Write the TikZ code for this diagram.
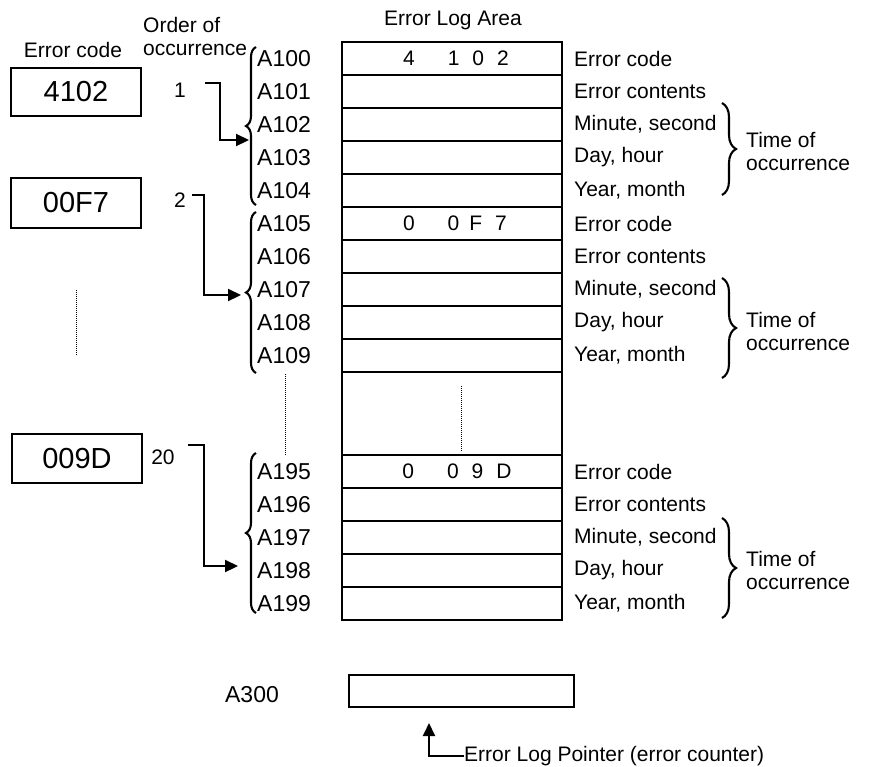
\documentclass[tikz,border=0pt]{standalone}
\usepackage{fontspec}
\setmainfont{Liberation Sans}
\usetikzlibrary{arrows.meta,decorations.pathreplacing}
\begin{document}
\begin{tikzpicture}[x=1pt,y=-1pt,
  lbl/.style={font=\fontsize{21}{23}\selectfont, inner sep=0pt},
  addr/.style={font=\fontsize{23}{26}\selectfont, inner sep=0pt, anchor=west},
  codebox/.style={draw, line width=2.6pt, minimum width=130pt, minimum height=48pt, inner sep=0pt, font=\fontsize{29}{32}\selectfont},
  cell/.style={draw, line width=1.7pt, minimum width=220pt, minimum height=33pt, inner sep=0pt},
  lbrace/.style={decorate, decoration={brace, amplitude=10pt}, line width=2.1pt},
  rbrace/.style={decorate, decoration={brace, amplitude=14pt}, line width=2.1pt},
  arr/.style={line width=2.2pt, -{Triangle[length=13pt,width=12pt]}},
  dots/.style={line width=1pt, dash pattern=on 1pt off 1pt}
]
\useasboundingbox (0,0) rectangle (872,766);

% headers
\node[lbl] (hdrcode) at (73,50) {Error code};
\node[lbl, align=left, anchor=west] (hdrord) at (143,36) {Order of\\occurrence};
\node[lbl] (hdrarea) at (453,20) {Error Log Area};

% table rows and addresses
\foreach \n/\y/\t in {100/58.5/{Error code},101/91.5/{Error contents},102/124.5/{Minute, second},103/157.5/{Day, hour},104/190.5/{Year, month},
                      105/223.5/{Error code},106/256.5/{Error contents},107/289.5/{Minute, second},108/322.5/{Day, hour},109/355.5/{Year, month},
                      195/471.5/{Error code},196/504.5/{Error contents},197/537.5/{Minute, second},198/570.5/{Day, hour},199/603.5/{Year, month}}{
  \node[cell] (r\n) at (452,\y) {};
  \node[addr] (a\n) at (257,\y) {A\n};
  \node[lbl, anchor=west] (e\n) at (574,\y) {\t};
}
\node[cell, minimum height=83pt] (gap) at (452,413.5) {};

% cell contents
\node[lbl] (d100) at (456,58.5) {4\hspace{33pt}1\hspace{13pt}0\hspace{13pt}2};
\node[lbl] (d105) at (455,223.5) {0\hspace{33pt}0\hspace{10pt}F\hspace{13pt}7};
\node[lbl] (d195) at (457,471.5) {0\hspace{33pt}0\hspace{13pt}9\hspace{13pt}D};

% left braces
\draw[lbrace] (256,205) -- (256,47);
\draw[lbrace] (256,373) -- (256,212);
\draw[lbrace] (256,613) -- (256,453);

% right braces
\draw[rbrace] (722,103) -- (722,195);
\draw[rbrace] (722,278) -- (722,378);
\draw[rbrace] (722,518) -- (722,618);
\node[lbl, align=left, anchor=west] (tm1) at (746,151.5) {Time of\\occurrence};
\node[lbl, align=left, anchor=west] (tm2) at (746,331.5) {Time of\\occurrence};
\node[lbl, align=left, anchor=west] (tm3) at (746,570) {Time of\\occurrence};

% error code boxes
\node[codebox] (c1) at (76,92) {4102};
\node[codebox, minimum height=50pt] (c2) at (76,203) {00F7};
\node[codebox, minimum height=49pt] (c3) at (77,458.5) {009D};

% order numbers
\node[lbl] (o1) at (180,90) {1};
\node[lbl] (o2) at (180,200) {2};
\node[lbl] (o20) at (163,457) {20};

% arrows
\coordinate (s1) at (205,83);  \coordinate (t1) at (249,140);
\coordinate (s2) at (192,195); \coordinate (t2) at (241,295);
\coordinate (s20) at (188,445); \coordinate (t20) at (238,566);
\draw[arr] (s1) -- ++(15,0) |- (t1);
\draw[arr] (s2) -- ++(12,0) |- (t2);
\draw[arr] (s20) -- ++(16,0) |- (t20);

% dotted continuation lines
\draw[dots] (76,290) -- (76,355);
\draw[dots] (285,374) -- (285,455);
\draw[dots] (461,386) -- (461,451);

% pointer
\node[draw, line width=1.7pt, minimum width=225pt, minimum height=32pt, inner sep=0pt] (ptr) at (461.5,691) {};
\node[addr, anchor=center] (a300) at (252,695) {A300};
\node[lbl, anchor=west] (ptrlbl) at (464,756) {Error Log Pointer (error counter)};
\coordinate (ptip) at (429,723);
\draw[arr, line width=2pt] (ptrlbl.west) -| (ptip);
\end{tikzpicture}
\end{document}
